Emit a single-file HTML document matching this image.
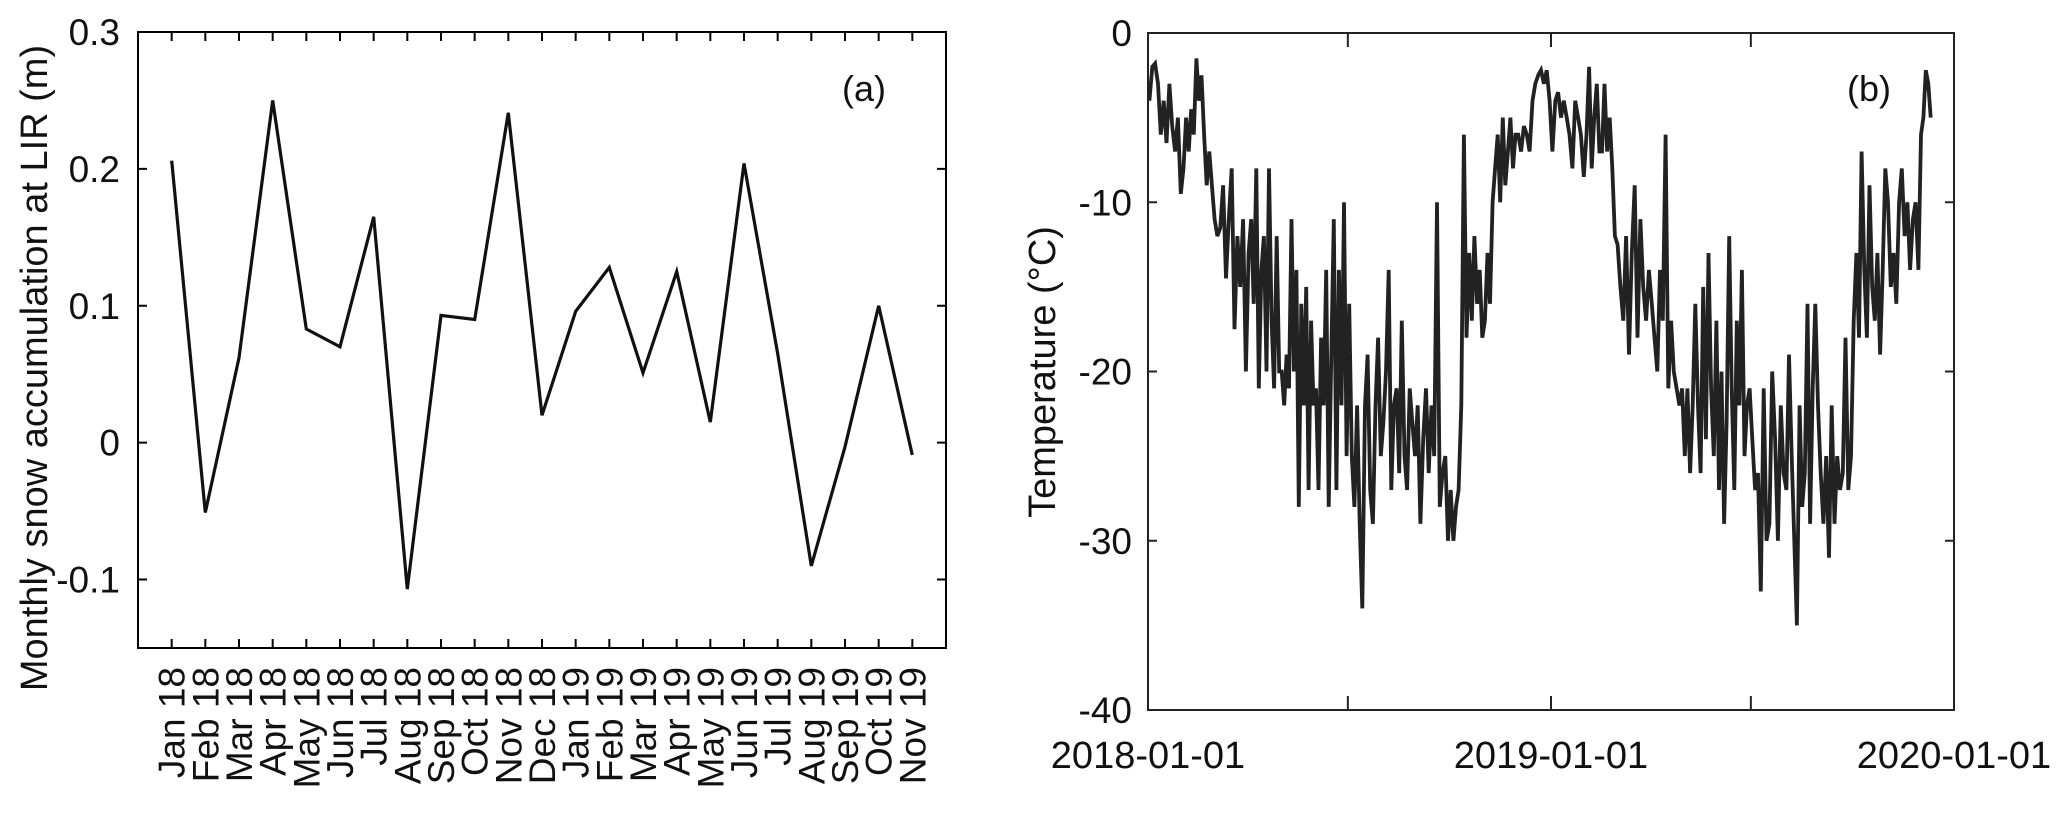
<!DOCTYPE html>
<html><head><meta charset="utf-8"><style>
html,body{margin:0;padding:0;background:#fff;}
svg{display:block;font-family:"Liberation Sans",Arial,sans-serif;}
</style></head><body>
<svg id="fig" width="2067" height="819" viewBox="0 0 2067 819" xmlns="http://www.w3.org/2000/svg">
<g id="pa"></g>
<g id="pb"></g>
</svg>
<script>
// ---- Panel (a) data ----
const snowMonths = ["Jan 18","Feb 18","Mar 18","Apr 18","May 18","Jun 18","Jul 18","Aug 18","Sep 18","Oct 18","Nov 18","Dec 18","Jan 19","Feb 19","Mar 19","Apr 19","May 19","Jun 19","Jul 19","Aug 19","Sep 19","Oct 19","Nov 19"];
const snowValues = [0.206,-0.051,0.062,0.250,0.083,0.070,0.165,-0.107,0.093,0.090,0.241,0.020,0.096,0.128,0.051,0.125,0.015,0.204,0.065,-0.090,-0.003,0.100,-0.009];
const snowTicks = [-0.1,0,0.1,0.2,0.3];
const snowTickLabels = ["-0.1","0","0.1","0.2","0.3"];
// ---- Panel (b) data ----
const tempTicks = [-40,-30,-20,-10,0];
const tempTickLabels = ["-40","-30","-20","-10","0"];
const dateTickLabels = ["2018-01-01","2019-01-01","2020-01-01"];
const monthLengths = [31,28,31,30,31,30,31,31,30,31,30,31,31,28,31,30,31,30,31,31,30,31,30,11];
const tempByMonth = [
[-4,-2,-1.8,-3,-6,-4,-6.5,-3,-5.5,-7,-5,-9.5],
[-8,-5,-7,-4.5,-6,-1.5,-4,-2.5,-6,-9,-7,-9],
[-11,-12,-11.5,-9,-14.5,-11,-8,-17.5,-12,-15,-11,-20],
[-13,-11,-16,-8,-21,-14,-12,-20,-8,-17,-21,-12,-20],
[-20,-22,-19,-21,-11,-20,-14,-28,-16,-22,-15,-27,-17,-22],
[-21,-27,-18,-22,-14,-28,-19,-11,-27,-14,-22,-10,-25],
[-16,-25,-28,-22,-29,-34,-22,-19,-27,-29,-22,-18,-25],
[-23,-20,-14,-27,-22,-21,-26,-17,-25,-27,-21,-23,-25],
[-22,-29,-24,-21,-26,-22,-25,-10,-28,-26,-25,-30],
[-27,-30,-28,-27,-22,-6,-18,-13,-17,-12,-16,-14,-18],
[-17,-13,-16,-10,-8,-6,-10,-5,-9,-7,-5,-8,-6],
[-6,-7,-5.5,-6,-7,-4,-3,-2.5,-2.2,-3,-2.2,-4],
[-7,-4,-3.5,-5,-4,-5,-6,-8,-4,-5,-6,-8.5],
[-6,-2,-8,-5,-3,-7,-7,-3,-7,-5,-8,-12],
[-12.5,-15,-17,-12,-19,-13,-9,-18,-11,-15,-17,-14],
[-16,-18,-20,-14,-17,-6,-21,-17,-20,-21,-22,-21],
[-25,-21,-26,-22,-16,-22,-26,-15,-24,-13,-21,-25,-17],
[-27,-20,-29,-23,-12,-21,-27,-17,-22,-14,-25,-22,-21],
[-24,-27,-26,-33,-21,-30,-29,-20,-24,-30,-22,-26],
[-27,-19,-25,-30,-35,-22,-28,-26,-16,-29,-21,-16,-22],
[-26,-29,-25,-31,-22,-29,-25,-27,-26,-18,-27,-25],
[-17,-13,-18,-7,-14,-18,-9,-15,-17,-13,-19,-14,-8],
[-10,-15,-13,-16,-10,-8,-12,-10,-14,-11,-10,-14],
[-6,-5,-2.2,-3,-5]
];

const NS="http://www.w3.org/2000/svg";
function mk(parent,tag,attrs,text){const e=document.createElementNS(NS,tag);for(const k in attrs)e.setAttribute(k,attrs[k]);if(text!==undefined)e.textContent=text;parent.appendChild(e);return e;}

// ---- Panel (a) ----
(function(){
const g=document.getElementById('pa');
const L=138,R=946,T=32,B=648, yMin=-0.15,yMax=0.3;
const x=i=>L+(i+1)*(R-L)/(snowMonths.length+1);
const y=v=>T+(yMax-v)/(yMax-yMin)*(B-T);
let box=mk(g,'rect',{x:L,y:T,width:R-L,height:B-T,fill:'none',stroke:'#000','stroke-width':2});


snowTicks.forEach((v,i)=>{
  let t=mk(g,'path',{d:`M${L},${y(v)}h9M${R},${y(v)}h-9`,stroke:'#000','stroke-width':2});
  
  
  let lb=mk(g,'text',{x:L-18,y:y(v)+13,'text-anchor':'end','font-size':37,fill:'#111'},snowTickLabels[i]);
  
  
});
snowMonths.forEach((m,i)=>{
  let t=mk(g,'path',{d:`M${x(i)},${B}v-9M${x(i)},${T}v9`,stroke:'#000','stroke-width':2});
  
  
  let lb=mk(g,'text',{transform:`translate(${x(i)+13},${B+19}) rotate(-90)`,'text-anchor':'end','font-size':37,fill:'#111'},m);
  
  
});
let d=snowValues.map((v,i)=>(i?'L':'M')+x(i).toFixed(1)+','+y(v).toFixed(1)).join('');
let ln=mk(g,'path',{d:d,fill:'none',stroke:'#111','stroke-width':3.2,'stroke-linejoin':'miter'});


let yt=mk(g,'text',{transform:'translate(47,368) rotate(-90)','text-anchor':'middle','font-size':38,fill:'#111'},'Monthly snow accumulation at LIR (m)');


let pl=mk(g,'text',{x:864,y:101,'text-anchor':'middle','font-size':36,fill:'#111'},'(a)');


})();

// ---- Panel (b) ----
(function(){
const g=document.getElementById('pb');
const L=1148,R=1954,T=33,B=710, yMin=-40,yMax=0, totalDays=730;
const x=dd=>L+dd/totalDays*(R-L);
const y=v=>T+(yMax-v)/(yMax-yMin)*(B-T);
let box=mk(g,'rect',{x:L,y:T,width:R-L,height:B-T,fill:'none',stroke:'#222','stroke-width':2});


tempTicks.forEach((v,i)=>{
  let t=mk(g,'path',{d:`M${L},${y(v)}h9M${R},${y(v)}h-9`,stroke:'#222','stroke-width':2});
  
  
  let lb=mk(g,'text',{x:L-16,y:y(v)+13,'text-anchor':'end','font-size':37,fill:'#111'},tempTickLabels[i]);
  
  
});
[181,365,546].forEach(dd=>{
  let t=mk(g,'path',{d:`M${x(dd)},${B}v-14M${x(dd)},${T}v14`,stroke:'#222','stroke-width':2});
  
  
});
dateTickLabels.forEach((s,i)=>{
  let lb=mk(g,'text',{x:x(i*365),y:768,'text-anchor':'middle','font-size':38,fill:'#111'},s);
  
  
});
let pts=[],start=0;
tempByMonth.forEach((vals,m)=>{
  const len=monthLengths[m];
  vals.forEach((v,k)=>{pts.push([start+(k+0.5)*len/vals.length,v]);});
  start+=len;
});
let d=pts.map((p,i)=>(i?'L':'M')+x(p[0]).toFixed(1)+','+y(p[1]).toFixed(1)).join('');
let ln=mk(g,'path',{d:d,fill:'none',stroke:'#222','stroke-width':3.8,'stroke-linejoin':'miter'});


let yt=mk(g,'text',{transform:'translate(1055,372) rotate(-90)','text-anchor':'middle','font-size':38,fill:'#111'},'Temperature (°C)');


let pl=mk(g,'text',{x:1869,y:101,'text-anchor':'middle','font-size':36,fill:'#111'},'(b)');


})();
</script>
</body></html>
